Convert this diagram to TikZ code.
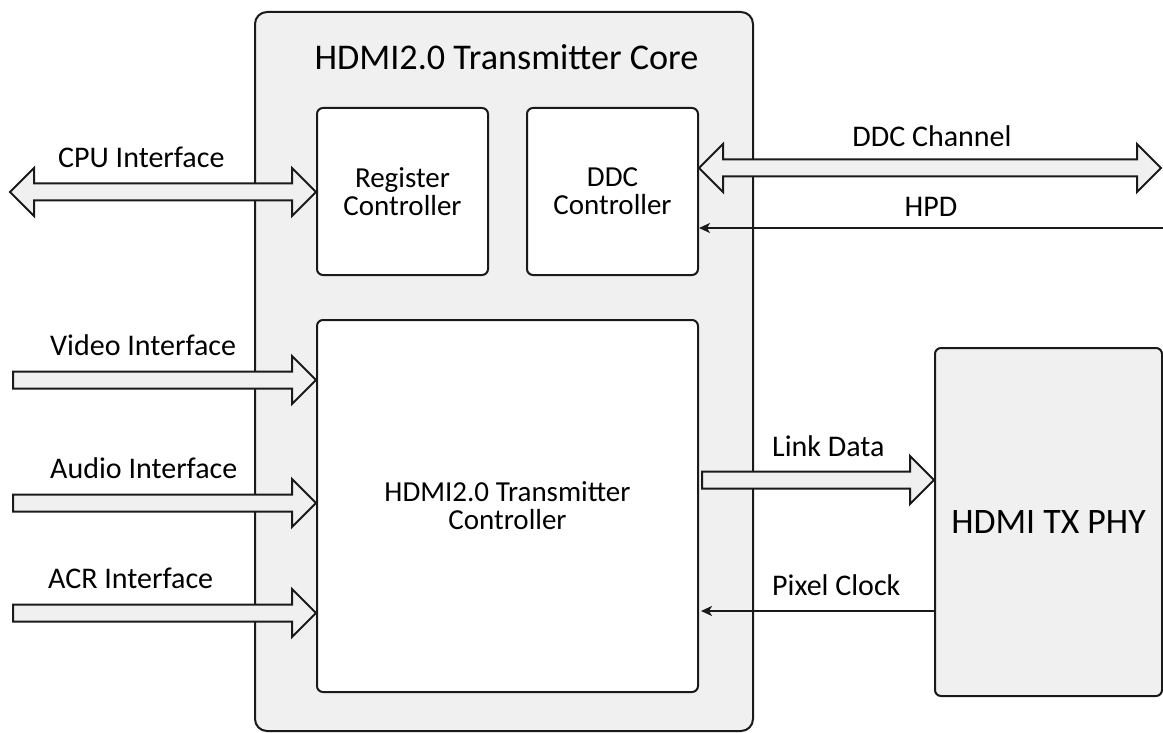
\documentclass[tikz,border=0pt]{standalone}
\usepackage{fontspec}
\setmainfont{Carlito}
\usetikzlibrary{calc,arrows.meta}
\definecolor{lnc}{HTML}{1A1A1A}
\definecolor{gfill}{HTML}{F0F0F0}
\newcommand\rblk[2]{%
 \draw[blk] let \p1=(#1), \p2=(#2) in (\x1,\y1+8.5pt) -- (\x2-24pt,\y1+8.5pt) -- (\x2-24pt,\y1+24pt) -- (\x2,\y1) -- (\x2-24pt,\y1-24pt) -- (\x2-24pt,\y1-8.5pt) -- (\x1,\y1-8.5pt) -- cycle;}
\newcommand\dblk[2]{%
 \draw[blk] let \p1=(#1), \p2=(#2) in (\x1,\y1) -- (\x1+24pt,\y1+24pt) -- (\x1+24pt,\y1+8.5pt) -- (\x2-24pt,\y1+8.5pt) -- (\x2-24pt,\y1+24pt) -- (\x2,\y1) -- (\x2-24pt,\y1-24pt) -- (\x2-24pt,\y1-8.5pt) -- (\x1+24pt,\y1-8.5pt) -- (\x1+24pt,\y1-24pt) -- cycle;}
\tikzset{
 box/.style={draw=lnc, line width=2pt, rectangle, rounded corners=6pt, fill=white, inner sep=0pt, align=center, text=black, font=\fontsize{29}{28}\selectfont},
 gbox/.style={box, fill=gfill},
 blk/.style={draw=lnc, line width=2pt, fill=gfill, line join=miter},
 thinarr/.style={draw=lnc, line width=2pt, -{Stealth[length=11pt,width=10pt,inset=3pt]}},
 lbl/.style={text=black, inner sep=0pt, font=\fontsize{30}{25}\selectfont},
}
\begin{document}
\begin{tikzpicture}[x=1pt,y=-1pt]
\useasboundingbox[fill=white] (0,0) rectangle (1163,733);
% boxes
\node[gbox, rounded corners=12pt, minimum width=498pt, minimum height=719pt] (core) at (504,371.5) {};
\node[lbl, anchor=base, font=\fontsize{36.2}{30}\selectfont] (title) at (506.5,70) {HDMI2.0 Transmitter Core};
\node[box, minimum width=171pt, minimum height=167pt] (reg) at (402.5,191.5) {Register\\Controller};
\node[box, minimum width=171pt, minimum height=167pt] (ddc) at (612.5,191.5) {DDC\\Controller};
\node[box, minimum width=381pt, minimum height=372pt] (tx) at (507.5,506) {HDMI2.0 Transmitter\\Controller};
\node[gbox, minimum width=227pt, minimum height=348pt, font=\fontsize{35.8}{30}\selectfont] (phy) at (1048.5,522) {HDMI TX PHY};
% coordinates
\coordinate (cpuL) at (10,192);
\coordinate (ddcR) at (1161,168);
\coordinate (hpdR) at (1165,228);
\coordinate (vin) at (13,380);
\coordinate (ain) at (13,503);
\coordinate (acr) at (13,613);
\coordinate (lnkL) at (702,480);
\coordinate (pixY) at (0,611);
% connectors
\dblk{cpuL}{reg.west}
\dblk{ddc.east |- ddcR}{ddcR}
\draw[thinarr] (hpdR) -- (hpdR -| ddc.east);
\rblk{vin}{vin -| tx.west}
\rblk{ain}{ain -| tx.west}
\rblk{acr}{acr -| tx.west}
\rblk{lnkL}{lnkL -| phy.west}
\draw[thinarr] (phy.west |- pixY) -- ($(tx.east |- pixY)+(2,0)$);
% labels
\node[lbl, anchor=base west] (lcpu) at (58,168) {CPU Interface};
\node[lbl, anchor=base west] (lvid) at (50,355) {Video Interface};
\node[lbl, anchor=base west] (laud) at (50,478) {Audio Interface};
\node[lbl, anchor=base west] (lacr) at (48,588) {ACR Interface};
\node[lbl, anchor=base] (lddc) at (932,147) {DDC Channel};
\node[lbl, anchor=base] (lhpd) at (931,216) {HPD};
\node[lbl, anchor=base west] (llnk) at (772,456) {Link Data};
\node[lbl, anchor=base west] (lpix) at (772,595) {Pixel Clock};
\end{tikzpicture}
\end{document}
